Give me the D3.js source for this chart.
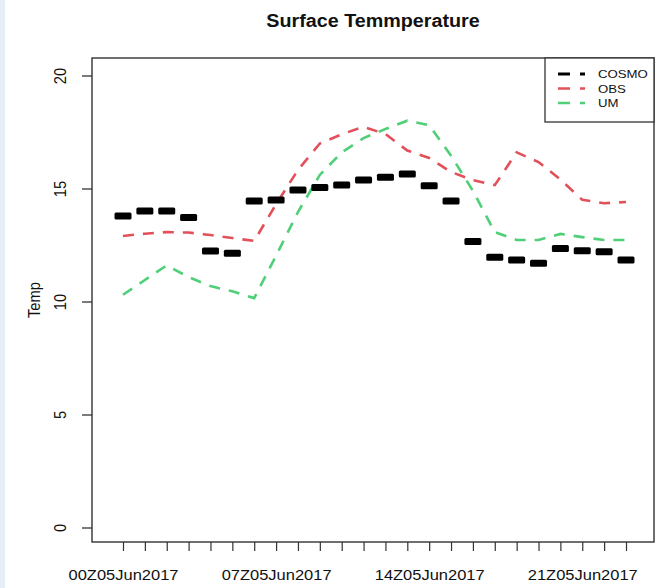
<!DOCTYPE html>
<html>
<head>
<meta charset="utf-8">
<script src="https://cdn.jsdelivr.net/npm/d3@7"></script>
<style>
  html, body { margin: 0; padding: 0; background: #ffffff; }
  svg { display: block; font-family: "Liberation Sans", Arial, Helvetica, sans-serif; }
</style>
</head>
<body>
<svg id="chart" width="659" height="588"></svg>
<script>
// Hourly surface temperature, 5 June 2017
const times = [
  "00Z05Jun2017", "01Z05Jun2017", "02Z05Jun2017", "03Z05Jun2017",
  "04Z05Jun2017", "05Z05Jun2017", "06Z05Jun2017", "07Z05Jun2017",
  "08Z05Jun2017", "09Z05Jun2017", "10Z05Jun2017", "11Z05Jun2017",
  "12Z05Jun2017", "13Z05Jun2017", "14Z05Jun2017", "15Z05Jun2017",
  "16Z05Jun2017", "17Z05Jun2017", "18Z05Jun2017", "19Z05Jun2017",
  "20Z05Jun2017", "21Z05Jun2017", "22Z05Jun2017", "23Z05Jun2017"
];
const cosmo = [13.78, 14.0, 14.0, 13.72, 12.23, 12.13, 14.45, 14.49,
               14.93, 15.04, 15.15, 15.38, 15.5, 15.64, 15.12, 14.45,
               12.65, 11.96, 11.84, 11.69, 12.35, 12.25, 12.2, 11.84];
const obs   = [12.9, 13.0, 13.07, 13.05, 12.94, 12.81, 12.68, 14.31,
               15.82, 16.99, 17.4, 17.73, 17.41, 16.68, 16.35, 15.73,
               15.37, 15.15, 16.6, 16.17, 15.4, 14.5, 14.35, 14.4];
const um    = [10.3, 10.95, 11.6, 11.08, 10.68, 10.45, 10.15, 12.03,
               13.96, 15.6, 16.6, 17.23, 17.63, 18.0, 17.8, 16.45,
               14.9, 13.07, 12.72, 12.72, 12.99, 12.85, 12.72, 12.72];
const yTicks = [0, 5, 10, 15, 20];
const seriesNames = ["COSMO", "OBS", "UM"];
const seriesColors = ["#000000", "#e2505a", "#4fcf78"];

const title = "Surface Temmperature";
const yTitle = "Temp";

// plot frame (pixels)
const box = { left: 92, right: 654, top: 58, bottom: 542 };
const sx = 1.121; // horizontal text stretch

const svg = d3.select("#chart");

// faint side strips
svg.append("rect").attr("x", 0).attr("y", 0).attr("width", 5).attr("height", 588).attr("fill", "#e7eef5");

const x = d3.scalePoint().domain(times).range([123, 626]).padding(0);
const y = d3.scaleLinear().domain([0, 20]).range([527.5, 75.5]);

// y axis
const yAxis = svg.append("g")
  .attr("transform", `translate(${box.left},0)`)
  .call(d3.axisLeft(y).tickValues(yTicks).tickSize(10).tickPadding(0));
yAxis.select(".domain").remove();
yAxis.selectAll(".tick line").attr("stroke", "#333").attr("stroke-width", 1.3);
yAxis.selectAll(".tick text")
  .attr("x", null).attr("y", null).attr("dy", null)
  .attr("text-anchor", "middle")
  .attr("transform", `translate(-26,0) rotate(-90) scale(0.892,1)`)
  .attr("font-size", 16.5)
  .attr("fill", "#111");

// x axis: every hour ticked, every seventh labelled
const xAxis = svg.append("g")
  .attr("transform", `translate(0,${box.bottom})`)
  .call(d3.axisBottom(x).tickSize(9)
    .tickFormat((d, i) => (i % 7 === 0 ? d : "")));
xAxis.select(".domain").remove();
xAxis.selectAll(".tick line").attr("stroke", "#333").attr("stroke-width", 1.2);
xAxis.selectAll(".tick text")
  .attr("y", 38).attr("dy", null)
  .attr("transform", `scale(${sx},1)`)
  .attr("font-size", 14.7)
  .attr("fill", "#111");

// OBS and UM as dashed lines
const line = d3.line().x((d, i) => x(times[i])).y(d => y(d));
[[obs, seriesColors[1]], [um, seriesColors[2]]].forEach(([vals, col]) => {
  svg.append("path")
    .datum(vals)
    .attr("d", line)
    .attr("fill", "none")
    .attr("stroke", col)
    .attr("stroke-width", 2.6)
    .attr("stroke-dasharray", "11,9");
});

// COSMO as short thick bars at each hour
svg.append("g").selectAll("rect")
  .data(cosmo)
  .join("rect")
  .attr("x", (d, i) => x(times[i]) - 8.5)
  .attr("y", d => y(d) - 3.5)
  .attr("width", 17)
  .attr("height", 7)
  .attr("rx", 1.5)
  .attr("fill", seriesColors[0]);

// frame
svg.append("rect")
  .attr("x", box.left).attr("y", box.top)
  .attr("width", box.right - box.left).attr("height", box.bottom - box.top)
  .attr("fill", "none").attr("stroke", "#333").attr("stroke-width", 1.4);

// title
svg.append("text")
  .attr("transform", `translate(373,27) scale(${sx},1)`)
  .attr("text-anchor", "middle")
  .attr("font-weight", "bold")
  .attr("font-size", 17.6)
  .attr("fill", "#111")
  .text(title);

// y axis title
svg.append("text")
  .attr("transform", `translate(40,${(box.top + box.bottom) / 2}) rotate(-90) scale(0.892,1)`)
  .attr("text-anchor", "middle")
  .attr("font-size", 16.5)
  .attr("fill", "#111")
  .text(yTitle);

// legend
const leg = svg.append("g");
leg.append("rect")
  .attr("x", 545).attr("y", box.top)
  .attr("width", box.right - 545).attr("height", 64)
  .attr("fill", "#fff").attr("stroke", "#333").attr("stroke-width", 1.3);
seriesNames.forEach((name, i) => {
  const cy = 74 + i * 14.5;
  leg.append("line")
    .attr("x1", 558).attr("x2", 585).attr("y1", cy).attr("y2", cy)
    .attr("stroke", seriesColors[i])
    .attr("stroke-width", i === 0 ? 3 : 2.6)
    .attr("stroke-dasharray", "12,10");
  leg.append("text")
    .attr("transform", `translate(598,${cy + 4}) scale(${sx},1)`)
    .attr("font-size", 11.8)
    .attr("fill", "#111")
    .text(name);
});
</script>
</body>
</html>
